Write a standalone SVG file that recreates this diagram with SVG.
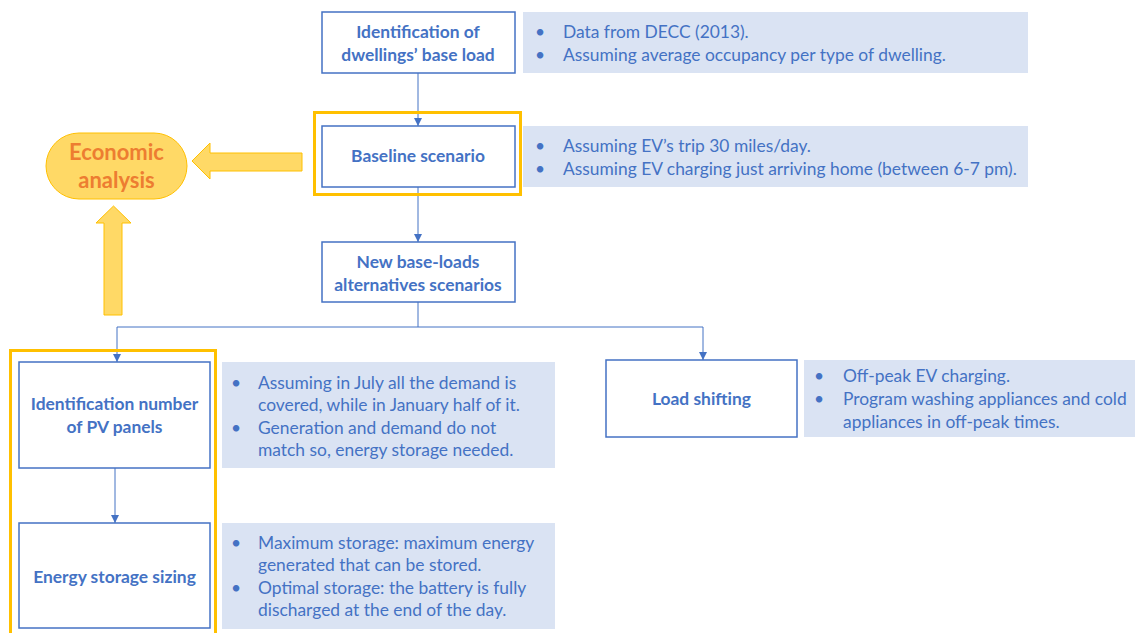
<svg xmlns="http://www.w3.org/2000/svg" width="1135" height="633" viewBox="0 0 1135 633">
<defs>
<marker id="ah" viewBox="0 0 10 10" refX="10" refY="5" markerWidth="8" markerHeight="8" markerUnits="userSpaceOnUse" orient="auto">
<path d="M0,0 L10,5 L0,10 z" fill="#4472C4"/>
</marker>
<style>
.box{fill:#fff;stroke:#4472C4;stroke-width:1.5}
.note{fill:#DAE3F3}
.hl{fill:none;stroke:#FFC000;stroke-width:3}
.t{font-family:Lato,"Liberation Sans",sans-serif;font-size:17.4px;font-weight:bold;fill:#4472C4;text-anchor:middle}
.n{font-family:Lato,"Liberation Sans",sans-serif;font-size:17.4px;fill:#4472C4}
.con{fill:none;stroke:#4472C4;stroke-width:1}
.ya{fill:#FFD966;stroke:#FFC000;stroke-width:1}
.e{font-family:Lato,"Liberation Sans",sans-serif;font-size:22px;font-weight:bold;fill:#ED7D31;text-anchor:middle}
</style>
</defs>
<rect width="1135" height="633" fill="#fff"/>

<g id="connectors">
<line class="con" x1="418" y1="73" x2="418" y2="126" marker-end="url(#ah)"/>
<line class="con" x1="418" y1="187" x2="418" y2="242" marker-end="url(#ah)"/>
<polyline class="con" points="418,302 418,327 117,327 117,362" marker-end="url(#ah)"/>
<polyline class="con" points="418,327 703,327 703,360" marker-end="url(#ah)"/>
<line class="con" x1="115" y1="468" x2="115" y2="523" marker-end="url(#ah)"/>
<path class="ya" d="M302,153 L210,153 L210,143 L192,161 L210,179 L210,171 L302,171 Z"/>
<path class="ya" d="M104,315 L104,223 L96,223 L113.5,206 L131,223 L122,223 L122,315 Z"/>
</g>

<g id="node-base-load">
<rect class="box" x="322" y="12" width="193" height="61"/>
<text class="t" x="418" y="38">Identification of</text>
<text class="t" x="418" y="61">dwellings’ base load</text>
</g>
<g id="note-base-load">
<rect class="note" x="523" y="12" width="505" height="61"/>
<text class="n" x="535" y="38">•</text>
<text class="n" x="563" y="38">Data from DECC (2013).</text>
<text class="n" x="535" y="61">•</text>
<text class="n" x="563" y="61">Assuming average occupancy per type of dwelling.</text>
</g>

<g id="node-baseline">
<rect class="hl" x="314.5" y="112.5" width="206" height="82"/>
<rect class="box" x="322" y="126" width="193" height="61"/>
<text class="t" x="418" y="162">Baseline scenario</text>
</g>
<g id="note-baseline">
<rect class="note" x="523" y="126" width="505" height="61"/>
<text class="n" x="535" y="152">•</text>
<text class="n" x="563" y="152">Assuming EV’s trip 30 miles/day.</text>
<text class="n" x="535" y="175">•</text>
<text class="n" x="563" y="175">Assuming EV charging just arriving home (between 6-7 pm).</text>
</g>

<g id="node-economic">
<rect x="46" y="133" width="141" height="66" rx="33" ry="33" fill="#FFD966" stroke="#FFC000" stroke-width="1"/>
<text class="e" x="116.5" y="160">Economic</text>
<text class="e" x="116.5" y="188">analysis</text>
</g>

<g id="node-new-base">
<rect class="box" x="322" y="242" width="193" height="60"/>
<text class="t" x="418" y="268">New base-loads</text>
<text class="t" x="418" y="291">alternatives scenarios</text>
</g>

<g id="group-pv">
<rect class="hl" x="10.5" y="350.5" width="205" height="290"/>
</g>

<g id="node-pv">
<rect class="box" x="19" y="362" width="191" height="106"/>
<text class="t" x="114.5" y="410">Identification number</text>
<text class="t" x="114.5" y="433">of PV panels</text>
</g>
<g id="note-pv">
<rect class="note" x="222" y="362" width="333" height="106"/>
<text class="n" x="231" y="389">•</text>
<text class="n" x="258" y="389">Assuming in July all the demand is</text>
<text class="n" x="258" y="411">covered, while in January half of it.</text>
<text class="n" x="231" y="434">•</text>
<text class="n" x="258" y="434">Generation and demand do not</text>
<text class="n" x="258" y="456">match so, energy storage needed.</text>
</g>

<g id="node-storage">
<rect class="box" x="19" y="523" width="191" height="105"/>
<text class="t" x="114.5" y="583">Energy storage sizing</text>
</g>
<g id="note-storage">
<rect class="note" x="222" y="523" width="333" height="106"/>
<text class="n" x="231" y="549">•</text>
<text class="n" x="258" y="549">Maximum storage: maximum energy</text>
<text class="n" x="258" y="571">generated that can be stored.</text>
<text class="n" x="231" y="594">•</text>
<text class="n" x="258" y="594">Optimal storage: the battery is fully</text>
<text class="n" x="258" y="616">discharged at the end of the day.</text>
</g>

<g id="node-load-shifting">
<rect class="box" x="606" y="360" width="191" height="77"/>
<text class="t" x="701.5" y="405">Load shifting</text>
</g>
<g id="note-load-shifting">
<rect class="note" x="804" y="360" width="331" height="77"/>
<text class="n" x="814" y="382">•</text>
<text class="n" x="843" y="382">Off-peak EV charging.</text>
<text class="n" x="814" y="405">•</text>
<text class="n" x="843" y="405">Program washing appliances and cold</text>
<text class="n" x="843" y="428">appliances in off-peak times.</text>
</g>
</svg>
